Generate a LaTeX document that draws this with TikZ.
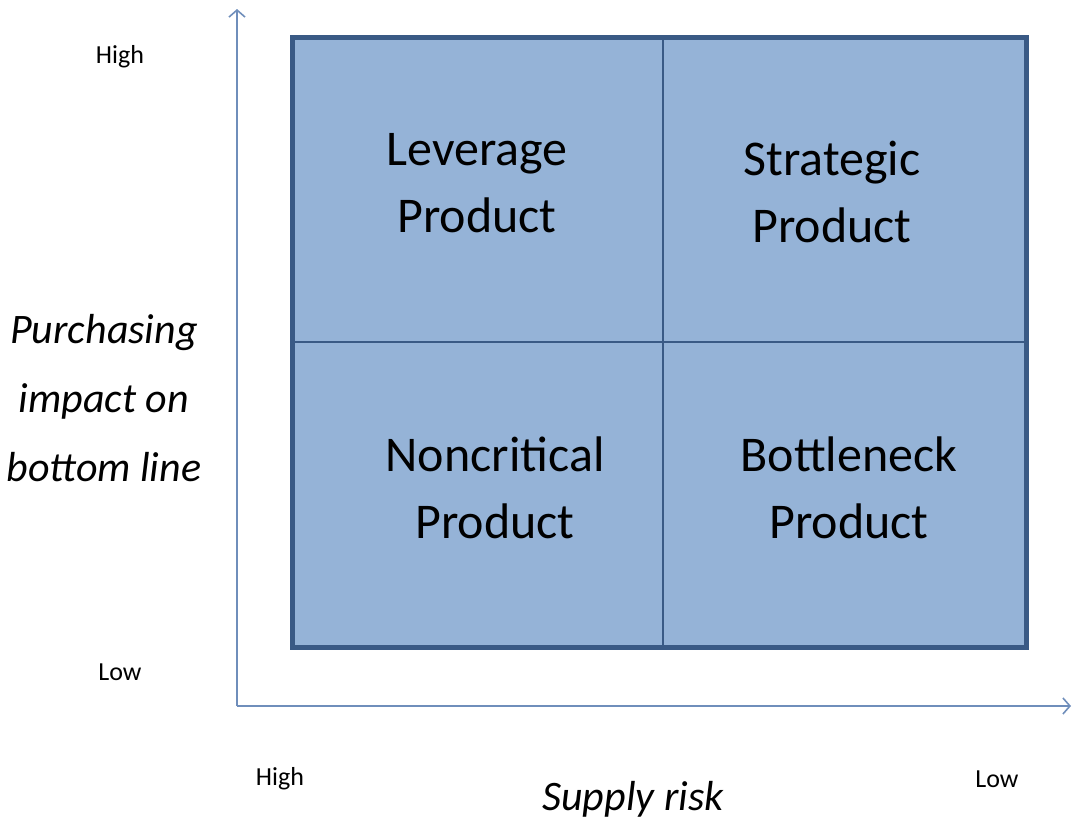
\documentclass[tikz,border=0pt]{standalone}
\usepackage{fontspec}
\setmainfont{Carlito}
\usetikzlibrary{arrows.meta}

\definecolor{boxfill}{HTML}{95B3D7}
\definecolor{boxline}{HTML}{3A5A85}
\definecolor{axisblue}{HTML}{6F8EBB}

\begin{document}
\begin{tikzpicture}[x=1pt, y=-1pt]
    \useasboundingbox (0, 0) rectangle (1073, 819);
    \begin{scope}[quad/.style={align=center, font=\fontsize{50}{67}\selectfont},
                  tick/.style={font=\fontsize{26}{28}\selectfont},
                  axlabel/.style={align=center, font=\fontsize{42}{69}\selectfont\itshape}]
        % the matrix
        \fill[boxfill] (292.5, 37.5) rectangle (1026.5, 647.5);
        \draw[boxline, line width=1.6] (663, 37.5) -- (663, 647.5);
        \draw[boxline, line width=1.6] (292.5, 342) -- (1026.5, 342);
        \draw[boxline, line width=5] (292.5, 37.5) rectangle (1026.5, 647.5);
        \node[quad] (lev) at (477, 183) {Leverage\\Product};
        \node[quad] (str) at (832, 192) {Strategic\\Product};
        \node[quad] (non) at (495, 488) {Noncritical\\Product};
        \node[quad] (bot) at (849, 488) {Bottleneck\\Product};
        % axes
        \coordinate (orig) at (237, 706);
        \coordinate (ytop) at (237, 9);
        \coordinate (xend) at (1071, 706);
        \begin{scope}[axisblue, line width=1.6]
        \draw[-{Straight Barb[length=7, width=16]}] (orig) -- (ytop);
        \draw[-{Straight Barb[length=7, width=16]}] (orig) -- (xend);
        \end{scope}
        \node[tick] (yhigh) at (120, 57) {High};
        \node[tick] (ylow) at (120, 672) {Low};
        \node[tick] (xhigh) at (280, 779) {High};
        \node[tick] (xlow) at (997, 779) {Low};
        \node[axlabel] (ylab) at (104, 398) {Purchasing\\impact on\\bottom line};
        \node[axlabel] (xlab) at (633, 799) {Supply risk};
    \end{scope}
\end{tikzpicture}
\end{document}
